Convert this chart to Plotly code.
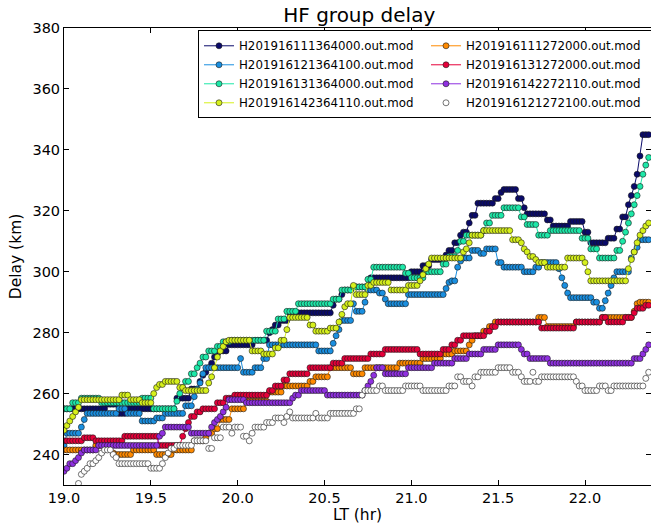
import plotly.graph_objects as go

# Local time axis: one sounding per minute starting at 19:00 LT
minute_index = list(range(203))
lt_hr = [19 + m / 60 for m in minute_index]

x_tick_vals = [19.0, 19.5, 20.0, 20.5, 21.0, 21.5, 22.0]
x_tick_text = ["19.0", "19.5", "20.0", "20.5", "21.0", "21.5", "22.0"]
y_tick_vals = [240, 260, 280, 300, 320, 340, 360, 380]
y_tick_text = ["240", "260", "280", "300", "320", "340", "360", "380"]

# Group delay (km) per link, one value per minute
h111364000 = [
    255, 255, 255, 255, 255, 255, 255, 255, 255, 255, 255, 255, 255, 255, 255,
    256.5, 256.5, 256.5, 256.5,
    253.5, 253.5, 253.5,
    255, 255, 255, 255, 255, 255, 255, 255, 255, 255, 255, 255, 255, 255, 255, 255, 255,
    258.5, 258.5, 258.5, 258.5, 258.5,
    261.5, 261.5, 261.5,
    264, 266, 267, 268.5, 270, 272, 273,
    274, 274, 274,
    276, 276, 276, 276, 276, 276, 276, 276, 276,
    277.5, 277.5, 277.5, 277.5, 277.5,
    280, 281, 282.5, 282.5,
    284, 284, 284,
    286.5, 286.5, 286.5, 286.5, 286.5, 286.5, 286.5, 286.5, 286.5, 286.5, 286.5, 286.5, 286.5, 286.5, 286.5,
    289, 291, 291, 292.5,
    294, 294, 294,
    295, 295, 295, 295, 295, 295,
    298, 298, 298, 298, 298, 298, 298, 298, 298, 298, 298, 298, 298, 298,
    300, 300, 300, 300,
    302, 302, 302,
    304, 304, 304, 304, 304,
    305.5, 307, 307,
    309.5, 309.5,
    312, 313, 313,
    316,
    318.5, 318.5,
    322.5, 322.5, 322.5, 322.5, 322.5, 322.5,
    324, 324, 326,
    327, 327, 327, 327, 327,
    324, 324, 321,
    319, 319, 319, 319, 319, 319, 319,
    317, 317,
    315, 315, 315, 315, 315, 315,
    316.5, 316.5, 316.5, 316.5, 316.5,
    313, 313,
    309.5, 309.5, 309.5, 309.5, 309.5, 309.5,
    311, 311, 311,
    314, 314, 318, 318, 322, 325, 328, 332, 338,
    345, 345, 345,
]

h121364100 = [
    243,
    247, 247, 247, 247, 247,
    249, 251.5,
    253.5, 253.5, 253.5, 253.5, 253.5, 253.5, 253.5, 253.5, 253.5, 253.5, 253.5,
    255, 255, 255,
    253.5, 253.5, 253.5, 253.5, 253.5,
    251, 251, 251, 251, 251,
    252, 252, 252,
    253.5, 253.5, 253.5, 253.5, 253.5, 253.5, 253.5,
    256, 256, 256,
    259, 261.5, 263.5, 266.5,
    268.5, 268.5, 268.5, 268.5, 268.5, 268.5, 268.5, 268.5, 268.5, 268.5, 268.5, 268.5,
    271.5,
    267, 267, 267, 267,
    268.5, 268.5, 268.5,
    271.5, 271.5,
    276, 276, 276, 276, 276, 276, 276, 276, 276, 276, 276, 276, 276, 276, 276, 276, 276,
    274, 274, 274, 274, 274,
    276.5, 279, 281,
    284, 284, 284, 284,
    289.5,
    287, 287, 287,
    290,
    294, 294, 294, 294,
    293, 293, 291,
    289.5, 289.5, 289.5, 289.5, 289.5, 289.5, 289.5,
    292.5, 292.5, 292.5, 292.5, 292.5, 292.5, 292.5, 292.5, 292.5, 292.5, 292.5, 292.5, 292.5,
    294.5, 296.5, 297, 297, 301.5, 303.5,
    304.5, 304.5, 304.5,
    307, 307, 307,
    306, 306,
    307.5, 307.5, 307.5, 307.5,
    303, 303,
    301.5, 301.5, 301.5, 301.5, 301.5, 301.5, 301.5,
    300, 300, 300, 300,
    301.5, 301.5,
    303, 303, 303, 303, 303, 303,
    301, 298, 295.5, 293,
    291.5, 291.5, 291.5, 291.5, 291.5, 291.5, 291.5, 291.5,
    290, 290, 288, 288,
    290.5, 293, 295.5, 298,
    300, 300, 300, 300, 300,
    304.5, 306.5, 308,
    310.5, 310.5, 310.5, 310.5,
]

h131364000 = [
    255, 255, 255,
    257, 257, 257,
    258.5, 258.5, 258.5, 258.5, 258.5, 258.5, 258.5,
    257, 257, 257, 257, 257, 257, 257, 257, 257, 257, 257, 257, 257, 257,
    258.5, 258.5, 258.5, 258.5,
    255, 255, 255, 255, 255, 255, 255, 255,
    257.5, 260, 262, 264, 264, 266.5, 266.5, 268.5, 270, 272, 272,
    274, 274, 274, 275.5, 275.5, 277, 277, 277,
    277.5, 277.5, 277.5, 277.5, 277.5, 277.5, 277.5, 277.5, 277.5, 277.5, 277.5, 277.5,
    280.5, 280.5, 280.5, 280.5,
    284.5, 284.5, 284.5,
    287, 287, 287, 287,
    289.5, 289.5, 289.5, 289.5, 289.5, 289.5, 289.5, 289.5, 289.5, 289.5, 289.5, 289.5,
    291, 291, 291,
    294, 294, 294, 294,
    295, 295, 295, 295, 295,
    297.5, 297.5,
    301.5, 301.5, 301.5, 301.5, 301.5, 301.5, 301.5, 301.5, 301.5, 301.5, 301.5,
    299.5, 299.5,
    298, 298, 298, 298, 298,
    300, 300, 300, 300, 300, 300,
    302.5, 302.5,
    305, 305, 305,
    307, 310, 310,
    312, 312, 312, 312, 312, 312,
    313.5, 316, 316,
    318.5, 318.5, 318.5, 318.5,
    321, 321, 321, 321, 321, 321,
    318, 318,
    315.5, 315.5, 315.5, 315.5,
    312, 312, 312, 312,
    313.5, 313.5, 313.5, 313.5, 313.5, 313.5, 313.5, 313.5, 313.5, 313.5, 313.5,
    311, 311, 311,
    307.5, 307.5, 307.5,
    304.5, 304.5, 304.5, 304.5, 304.5, 304.5,
    307, 307,
    310, 313, 316, 319, 322, 325, 328, 332, 335, 337.5,
]

h142364110 = [
    248, 249.5, 251, 252.5, 254, 255.5,
    258, 258, 258, 258, 258, 258, 258, 258, 258, 258, 258, 258, 258, 258,
    259.5, 259.5, 259.5,
    258, 258, 258, 258,
    257, 257, 257, 257,
    260, 262, 263, 263,
    264, 264, 264, 264, 264,
    262, 262,
    261, 261, 261, 261, 261, 261, 261, 261,
    263.5, 265.5, 268.5, 272, 274, 275.5, 277,
    277.5, 277.5, 277.5, 277.5, 277.5, 277.5, 277.5, 277.5,
    274, 274, 274, 274,
    273, 273, 273, 273,
    275, 275, 277.5, 277.5, 281,
    285, 285, 285, 285, 285, 285, 285,
    282.5, 282.5,
    280.5, 280.5, 280.5, 280.5, 280.5,
    281.5, 281.5, 281.5,
    283.5, 286, 288.5, 289.5, 289.5,
    295.5,
    292.5, 292.5, 292.5, 292.5,
    295.5, 295.5,
    296.5, 296.5, 296.5, 296.5, 296.5, 296.5,
    294, 294, 294, 294, 294, 294,
    295.5, 295.5, 295.5, 295.5,
    297, 299, 301, 302.5,
    304.5, 304.5, 304.5, 304.5, 304.5, 304.5, 304.5, 304.5, 304.5, 304.5, 304.5,
    306.5, 307.5, 309.5,
    312, 312, 312, 312,
    313.5, 313.5, 313.5, 313.5, 313.5, 313.5, 313.5, 313.5, 313.5, 313.5,
    310.5, 310.5, 310.5,
    309.5, 307.5, 306.5, 305, 305, 304,
    303, 303, 303,
    301.5, 301.5, 301.5, 301.5, 301.5, 301.5, 301.5,
    304.5, 304.5, 304.5, 304.5, 304.5, 304.5,
    303, 300,
    297, 297, 297, 297, 297, 297, 297, 297, 297, 297, 297, 297, 297,
    301, 304, 306.5, 309.5, 312, 313.5, 315, 316,
]

h111272000 = [
    241.5, 241.5, 241.5, 241.5, 241.5, 241.5, 241.5, 241.5, 241.5, 241.5, 241.5,
    243, 243, 243, 243, 243, 243,
    240.5,
    240, 240, 240, 240, 240, 240,
    241.5, 241.5, 241.5, 241.5, 241.5, 241.5, 241.5, 241.5,
    240, 240, 240, 240, 240, 240,
    241.5, 241.5, 241.5, 241.5, 241.5, 241.5, 241.5,
    244.5, 244.5, 244.5, 244.5,
    245.5,
    247, 247,
    248.5, 248.5,
    251.5, 251.5, 251.5, 251.5,
    255, 255, 255, 255, 255,
    257.5, 257.5, 257.5, 257.5, 257.5, 257.5, 257.5, 257.5,
    260.5, 260.5, 260.5, 260.5, 260.5,
    262.5, 262.5, 262.5, 262.5, 262.5, 262.5, 262.5, 262.5, 262.5,
    264, 264,
    265.5, 265.5, 265.5, 265.5, 265.5,
    268.5, 268.5, 268.5, 268.5, 268.5, 268.5, 268.5, 268.5,
    266.5, 266.5, 266.5, 266.5,
    268.5, 268.5, 268.5, 268.5, 268.5, 268.5, 268.5, 268.5, 268.5, 268.5, 268.5, 268.5,
    270, 270, 270, 270, 270, 270, 270, 270,
    271.5, 271.5, 271.5, 271.5, 271.5, 271.5, 271.5,
    273, 273, 273, 273,
    274, 274, 274, 274, 274,
    276, 277.5,
    279, 279, 279,
    280.5, 280.5, 282, 282,
    283.5, 283.5, 283.5, 283.5, 283.5, 283.5, 283.5, 283.5, 283.5, 283.5, 283.5, 283.5, 283.5, 283.5, 283.5,
    285, 285, 285,
    282, 282, 282, 282, 282, 282, 282, 282, 282, 282,
    283.5, 283.5, 283.5, 283.5, 283.5, 283.5, 283.5, 283.5, 283.5,
    285, 285, 285, 285, 285, 285, 285, 285, 285, 285, 285,
    287, 289.5, 290, 290, 290, 290,
]

h131272000 = [
    244.5, 244.5, 244.5, 244.5, 244.5, 244.5, 244.5,
    245.5, 245.5, 245.5, 245.5,
    244.5, 244.5, 244.5, 244.5, 244.5, 244.5, 244.5, 244.5, 244.5, 244.5,
    246, 246, 246, 246, 246, 246, 246, 246, 246, 246, 246, 246,
    243, 243, 243, 243, 243, 243, 243, 243,
    246, 248.5, 250.5, 252.5, 252.5, 254, 254,
    255, 255, 255, 255, 255,
    257, 257, 257,
    258.5, 258.5, 258.5,
    259.5, 259.5, 259.5, 259.5, 259.5, 259.5, 259.5, 259.5, 259.5, 259.5, 259.5, 259.5,
    261, 261,
    262.5, 262.5, 262.5,
    264.5, 264.5,
    266.5, 266.5, 266.5, 266.5, 266.5, 266.5, 266.5,
    268.5, 268.5, 268.5, 268.5, 268.5, 268.5, 268.5, 268.5,
    270, 270, 270, 270,
    271.5, 271.5, 271.5, 271.5, 271.5, 271.5, 271.5, 271.5, 271.5,
    273, 273, 273, 273, 273,
    274.5, 274.5, 274.5, 274.5, 274.5, 274.5, 274.5, 274.5, 274.5, 274.5, 274.5, 274.5,
    273, 273, 273, 273, 273, 273, 273, 273,
    274.5, 274.5, 274.5,
    276, 276, 277.5, 277.5,
    279, 279, 279, 279, 279, 279, 279, 279,
    280.5, 280.5, 282, 282,
    283.5, 283.5, 283.5, 283.5, 283.5, 283.5, 283.5, 283.5, 283.5, 283.5, 283.5, 283.5, 283.5, 283.5, 283.5,
    281.5, 281.5, 281.5, 281.5, 281.5, 281.5, 281.5, 281.5, 281.5, 281.5, 281.5, 281.5,
    283.5, 283.5, 283.5, 283.5, 283.5, 283.5, 283.5, 283.5, 283.5,
    285, 285,
    283.5, 283.5, 283.5, 283.5, 283.5, 283.5,
    285, 285, 285,
    286.5,
    288, 288, 288,
    289, 289,
]

h142272110 = [
    234.5, 235.5, 237, 237, 238, 239, 240.5,
    241.5, 241.5, 241.5, 241.5, 241.5,
    243, 243, 243, 243, 243, 243, 243, 243, 243, 243, 243, 243, 243, 243, 243, 243, 243, 243, 243, 243, 243,
    246, 247,
    249, 249, 249, 249, 249, 249, 249, 249, 249,
    247, 247, 247, 247, 247, 247, 247,
    249, 250.5, 251.5, 252.5, 254, 255.5,
    258, 258, 258, 258, 258, 258,
    257, 257, 257, 257, 257, 257, 257, 257, 257, 257, 257, 257, 257, 257, 257, 257,
    258.5, 259.5, 259.5,
    261, 261, 261, 261, 261, 261, 261, 261, 261,
    259.5, 259.5, 259.5, 259.5, 259.5, 259.5, 259.5, 259.5, 259.5, 259.5, 259.5, 259.5, 259.5,
    261, 262.5, 264, 266,
    268.5, 268.5, 268.5,
    266.5, 266.5, 266.5, 266.5, 266.5, 266.5, 266.5, 266.5,
    268.5, 268.5, 268.5, 268.5, 268.5, 268.5, 268.5, 268.5, 268.5,
    270, 270, 270, 270, 270, 270, 270,
    271.5, 271.5, 271.5, 271.5, 271.5,
    273, 273, 273, 273, 273,
    274.5, 274.5, 274.5, 274.5, 274.5,
    276, 276, 276, 276, 276, 276, 276, 276,
    274.5, 273, 273,
    271.5, 271.5, 271.5, 271.5, 271.5, 271.5, 271.5,
    270, 270, 270, 270, 270, 270, 270, 270, 270, 270, 270, 270, 270, 270, 270,
    270, 270, 270, 270, 270, 270, 270, 270, 270, 270, 270, 270, 270, 270,
    271.5, 271.5, 271.5,
    273, 274.5, 276,
]

# No usable echo (below the plotted range) for the first five minutes
h121272100 = [
    None, None, None, None, None,
    230.5, 233.5, 234.5, 235.5, 237, 237, 238, 239, 240.5,
    241.5, 241.5, 241.5,
    240, 239,
    237, 237, 237, 237, 237, 237, 237, 237, 237, 237, 237,
    235.5, 235.5, 235.5, 235.5,
    237, 239, 240.5,
    242, 242,
    243, 243, 243, 243, 243, 243,
    244.5, 244.5, 244.5, 244.5, 244.5,
    242, 242,
    245.5, 245.5, 245.5,
    249, 249, 249,
    247,
    249, 249, 249,
    246, 246,
    244.5,
    247,
    249, 249, 249, 249,
    250.5, 250.5, 250.5,
    252, 252, 252,
    250.5,
    252.5, 254,
    252, 252, 252, 252, 252, 252, 252, 252,
    253.5,
    252, 252, 252, 252,
    253.5, 253.5, 253.5, 253.5, 253.5, 253.5, 253.5, 253.5, 253.5,
    255, 255,
    259.5,
    261, 261, 261, 261, 261,
    262.5, 262.5,
    261, 261, 261, 261, 261, 261, 261,
    262.5, 262.5, 262.5, 262.5, 262.5, 262.5,
    261, 261, 261, 261, 261, 261, 261, 261, 261,
    262.5, 262.5, 262.5,
    265.5, 265.5,
    264, 264, 264,
    262.5,
    265.5, 265.5,
    267, 267, 267, 267, 267, 267,
    268.5, 268.5, 268.5, 268.5, 268.5,
    267, 267, 267,
    265.5, 264,
    264, 264,
    267,
    264, 264,
    265.5, 265.5, 265.5, 265.5, 265.5, 265.5, 265.5, 265.5, 265.5, 265.5, 265.5, 265.5,
    264, 262.5, 262.5,
    261, 261, 261, 261, 261,
    262.5, 262.5, 262.5,
    261, 261,
    262.5, 262.5, 262.5, 262.5, 262.5, 262.5, 262.5, 262.5, 262.5, 262.5, 262.5,
    265, 267,
]

series = [
    ("H201916111364000.out.mod", h111364000, "#0a0a6a", 1),
    ("H201916121364100.out.mod", h121364100, "#1a8fe0", 3),
    ("H201916131364000.out.mod", h131364000, "#1de8a8", 5),
    ("H201916142364110.out.mod", h142364110, "#d6f01c", 7),
    ("H201916111272000.out.mod", h111272000, "#ff8a00", 2),
    ("H201916131272000.out.mod", h131272000, "#e6003a", 4),
    ("H201916142272110.out.mod", h142272110, "#8f30e0", 6),
    ("H201916121272100.out.mod", h121272100, "#ffffff", 8),
]

fig = go.Figure()
for name, delay_km, color, rank in series:
    fig.add_trace(go.Scatter(
        x=lt_hr[:len(delay_km)],
        y=delay_km,
        name=name,
        mode="lines+markers",
        line=dict(color=color, width=1),
        marker=dict(symbol="circle", size=6, color=color,
                    line=dict(color="#1a1a1a", width=0.6)),
        legendrank=rank,
        connectgaps=False,
    ))

# right-hand tick marks (inward) without a right spine
fig.add_trace(go.Scatter(x=[], y=[], yaxis="y2", showlegend=False, hoverinfo="skip"))

tick_font = dict(family="DejaVu Sans", size=14.5, color="black")
label_font = dict(family="DejaVu Sans", size=15.5, color="black")

fig.update_layout(
    width=651,
    height=525,
    margin=dict(l=64, r=0, t=28, b=40, pad=0, autoexpand=False),
    paper_bgcolor="white",
    plot_bgcolor="white",
    font=dict(family="DejaVu Sans", size=14, color="black"),
    title=dict(
        text="HF group delay",
        x=0.503, xref="paper", xanchor="center",
        y=1 - 15 / 525, yref="container", yanchor="middle",
        font=dict(family="DejaVu Sans", size=20, color="black"),
    ),
    xaxis=dict(
        range=[19.0, 22.38],
        tickmode="array", tickvals=x_tick_vals, ticktext=x_tick_text,
        ticks="inside", ticklen=5, tickwidth=1, tickcolor="black",
        showline=True, linecolor="black", linewidth=1, mirror="ticks",
        showgrid=False, zeroline=False,
        tickfont=tick_font,
        title=dict(text="LT (hr)", font=label_font, standoff=3),
    ),
    yaxis=dict(
        range=[230, 380],
        tickmode="array", tickvals=y_tick_vals, ticktext=y_tick_text,
        ticks="inside", ticklen=5, tickwidth=1, tickcolor="black",
        showline=True, linecolor="black", linewidth=1, mirror=False,
        showgrid=False, zeroline=False,
        tickfont=tick_font,
        title=dict(text="Delay (km)", font=label_font, standoff=6),
    ),
    yaxis2=dict(
        overlaying="y", side="right", matches="y",
        tickmode="array", tickvals=y_tick_vals,
        ticks="inside", ticklen=5, tickwidth=1, tickcolor="black",
        showticklabels=False, showline=False, showgrid=False, zeroline=False,
    ),
    legend=dict(
        orientation="h",
        x=(198 - 64) / 587, xanchor="left",
        y=0.995, yanchor="top",
        bgcolor="white", bordercolor="black", borderwidth=1,
        font=dict(family="DejaVu Sans", size=11.8, color="black"),
        entrywidth=182, entrywidthmode="pixels",
        tracegroupgap=0,
    ),
    showlegend=True,
)

fig.write_html("out.html")
